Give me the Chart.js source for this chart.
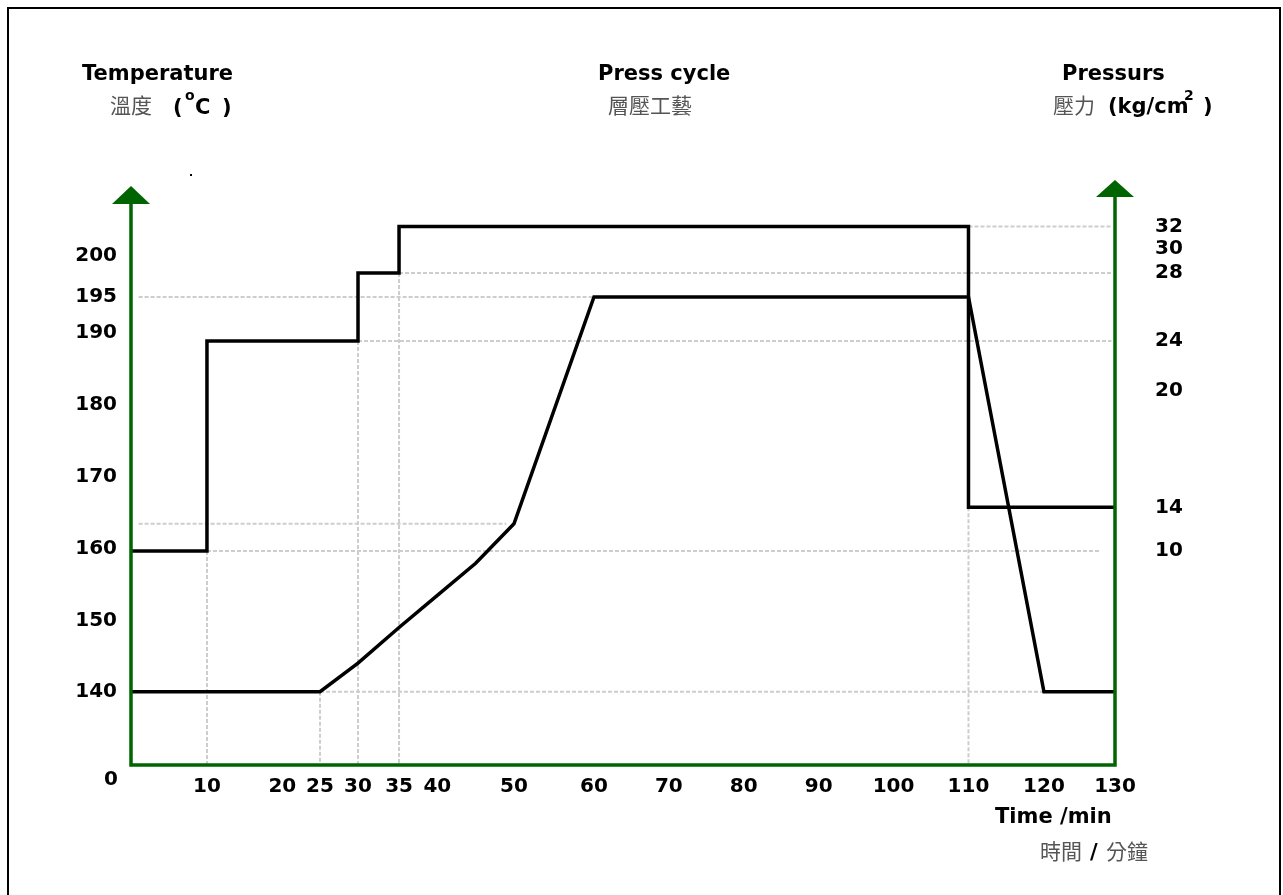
<!DOCTYPE html>
<html>
<head>
<meta charset="utf-8">
<title>Press cycle</title>
<script src="https://cdn.jsdelivr.net/npm/chart.js@4/dist/chart.umd.min.js"></script>
<style>
  html, body { margin: 0; padding: 0; background: #fff; overflow: hidden; }
  #frame { position: absolute; left: 7px; top: 7px; width: 1270px; height: 900px; border: 2px solid #000; }
  #pressChart { position: absolute; left: 0; top: 0; }
</style>
</head>
<body>
<div id="frame"></div>
<canvas id="pressChart" width="1283" height="895"></canvas>
<script>
// ticks
const timeTicks = [10, 20, 25, 30, 35, 40, 50, 60, 70, 80, 90, 100, 110, 120, 130];
const tempTicks = [0, 140, 150, 160, 170, 180, 190, 195, 200];
const pressTicks = [10, 14, 20, 24, 28, 30, 32];

// temperature curve (min, °C)
const tempTime = [0, 25, 30, 35, 40, 45, 50, 60, 110, 120, 130];
const tempValue = [140, 140, 144, 149, 153.5, 158, 163.5, 195, 195, 140, 140];

// pressure steps (min, kg/cm2)
const pressTime = [0, 10, 10, 30, 30, 35, 35, 110, 110, 130];
const pressValue = [10, 10, 24, 24, 28, 28, 32, 32, 14, 14];

// dotted helper lines: horizontal ones (level, from, to)
const tempGuideLevel = [195, 163.5, 140];
const tempGuideFrom = [1, 1, 25];
const tempGuideTo = [60, 49, 120];
const pressGuideLevel = [32, 28, 24, 10];
const pressGuideFrom = [110, 35, 30, 10];
const pressGuideTo = [129.5, 129.5, 129.5, 128];
// ... and the vertical drops down to the time axis
const tempDropTime = [25];
const tempDropLevel = [140];
const pressDropTime = [10, 30, 35, 110];
const pressDropLevel = [10, 24, 28, 14];

const AXIS = '#006400';
const GUIDE = '#cdcdcd';
const LABEL = 'bold 21px "DejaVu Sans"';
const CJK = '21px "Noto Sans CJK TC"';

// the drawing is hand made, so its axes are not evenly spaced:
// value -> fraction of the axis length
const STOPS = {
  x: [[0, 0], [10, 0.0772], [25, 0.1921], [30, 0.2307], [35, 0.2724], [50, 0.3892],
      [60, 0.4705], [110, 0.8511], [120, 0.9278], [130, 1]],
  y: [[0, 0], [140, 0.1297], [160, 0.3823], [195, 0.8283], [200, 0.9009], [210, 1]],
  y2: [[0, 0], [10, 0.3788], [14, 0.4561], [20, 0.6619], [24, 0.7504], [28, 0.8708],
       [30, 0.9133], [32, 0.9531], [34, 1]]
};

class StopScale extends Chart.LinearScale {
  static id = 'stops';
  lerp(v, from, to) {
    const s = STOPS[this.id];
    let i = 1;
    while (i < s.length - 1 && v > s[i][from]) i++;
    const a = s[i - 1], b = s[i];
    return a[to] + (v - a[from]) * (b[to] - a[to]) / (b[from] - a[from]);
  }
  getPixelForValue(value) {
    if (value === null || value === undefined || isNaN(value)) return NaN;
    return this.getPixelForDecimal(this.lerp(value, 0, 1));
  }
  getValueForPixel(pixel) {
    return this.lerp(this.getDecimalForPixel(pixel), 1, 0);
  }
}
Chart.register(StopScale);

const points = (xs, ys) => xs.map((x, i) => ({ x: x, y: ys[i] }));

const line = (data, axis) => ({
  data: data, yAxisID: axis, borderColor: '#000', borderWidth: 3.5,
  pointRadius: 0, tension: 0, fill: false, borderJoinStyle: 'miter', order: 1
});
const guide = (data, axis) => ({
  data: data, yAxisID: axis, borderColor: GUIDE, borderWidth: 2, borderDash: [4, 2],
  pointRadius: 0, tension: 0, fill: false, order: 2
});

const datasets = [
  line(points(tempTime, tempValue), 'y'),
  line(points(pressTime, pressValue), 'y2'),
  ...tempGuideLevel.map((lv, i) => guide([{ x: tempGuideFrom[i], y: lv }, { x: tempGuideTo[i], y: lv }], 'y')),
  ...pressGuideLevel.map((lv, i) => guide([{ x: pressGuideFrom[i], y: lv }, { x: pressGuideTo[i], y: lv }], 'y2')),
  ...tempDropTime.map((t, i) => guide([{ x: t, y: tempDropLevel[i] }, { x: t, y: 0 }], 'y')),
  ...pressDropTime.map((t, i) => guide([{ x: t, y: pressDropLevel[i] }, { x: t, y: 0 }], 'y2'))
];

function text(ctx, str, x, y, font, color, baseline) {
  ctx.font = font;
  ctx.fillStyle = color;
  ctx.textAlign = 'left';
  ctx.textBaseline = baseline || 'alphabetic';
  ctx.fillText(str, x, y);
}

function arrow(ctx, x, tip, h, half) {
  ctx.beginPath();
  ctx.moveTo(x, tip);
  ctx.lineTo(x + half, tip + h);
  ctx.lineTo(x - half, tip + h);
  ctx.closePath();
  ctx.fill();
}

const decorations = {
  id: 'decorations',
  afterDatasetsDraw(chart) {
    const { ctx, chartArea: a } = chart;
    ctx.save();

    // green axes with arrow heads
    ctx.strokeStyle = AXIS;
    ctx.fillStyle = AXIS;
    ctx.lineWidth = 3.5;
    ctx.lineJoin = 'miter';
    ctx.beginPath();
    ctx.moveTo(a.left, a.top + 2);
    ctx.lineTo(a.left, a.bottom);
    ctx.lineTo(a.right, a.bottom);
    ctx.lineTo(a.right, a.top - 5);
    ctx.stroke();
    arrow(ctx, a.left, a.top - 14, 18, 19);
    arrow(ctx, a.right, a.top - 20, 17, 19);

    // origin label sits below the corner
    ctx.font = LABEL.replace('21px', '20px');
    ctx.fillStyle = '#000';
    ctx.textAlign = 'right';
    ctx.textBaseline = 'middle';
    ctx.fillText('0', a.left - 13, chart.scales.y.getPixelForValue(0) + 15);

    // headings
    text(ctx, 'Temperature', 82, 80, LABEL, '#000');
    text(ctx, '溫度', 110, 105, CJK, '#555', 'middle');
    text(ctx, '(', 173, 114, LABEL, '#000');
    text(ctx, 'o', 185, 100, 'bold 14px "DejaVu Sans"', '#000');
    text(ctx, 'C', 195, 114, LABEL, '#000');
    text(ctx, ')', 222, 114, LABEL, '#000');

    text(ctx, 'Press cycle', 598, 80, LABEL, '#000');
    text(ctx, '層壓工藝', 608, 105, CJK, '#555', 'middle');

    text(ctx, 'Pressurs', 1062, 80, LABEL, '#000');
    text(ctx, '壓力', 1053, 105, CJK, '#555', 'middle');
    text(ctx, '(kg/cm', 1108, 113, LABEL, '#000');
    text(ctx, '2', 1184, 100, 'bold 14px "DejaVu Sans"', '#000');
    text(ctx, ')', 1203, 113, LABEL, '#000');

    text(ctx, 'Time /min', 995, 823, LABEL, '#000');
    text(ctx, '時間', 1040, 851, CJK, '#555', 'middle');
    text(ctx, '/', 1090, 859, LABEL, '#000');
    text(ctx, '分鐘', 1106, 851, CJK, '#555', 'middle');

    ctx.fillStyle = '#000';
    ctx.fillRect(190, 174, 2, 2);
    ctx.restore();
  }
};

const tickFont = { family: 'DejaVu Sans', weight: 'bold', size: 20 };

new Chart(document.getElementById('pressChart'), {
  type: 'line',
  data: { datasets: datasets },
  plugins: [decorations],
  options: {
    responsive: false,
    animation: false,
    layout: { padding: { top: 200, left: 0, right: 0, bottom: 0 } },
    plugins: { legend: { display: false }, tooltip: { enabled: false } },
    scales: {
      x: {
        type: 'stops', min: 0, max: 130,
        grid: { display: false, drawTicks: false }, border: { display: false },
        afterBuildTicks: s => { s.ticks = timeTicks.map(v => ({ value: v })); },
        afterFit: s => { s.height = 130; },
        ticks: { autoSkip: false, maxRotation: 0, minRotation: 0, padding: 10,
                 color: '#000', font: tickFont, callback: v => String(v) }
      },
      y: {
        type: 'stops', position: 'left', min: 0, max: 210,
        grid: { display: false, drawTicks: false }, border: { display: false },
        afterBuildTicks: s => { s.ticks = tempTicks.map(v => ({ value: v })); },
        afterFit: s => { s.width = 131; },
        ticks: { autoSkip: false, padding: 14, color: '#000', font: tickFont,
                 callback: v => (v === 0 ? '' : String(v)) }
      },
      y2: {
        type: 'stops', position: 'right', min: 0, max: 34,
        grid: { display: false, drawTicks: false }, border: { display: false },
        afterBuildTicks: s => { s.ticks = pressTicks.map(v => ({ value: v })); },
        afterFit: s => { s.width = 168; },
        ticks: { autoSkip: false, padding: 40, color: '#000', font: tickFont,
                 callback: v => String(v) }
      }
    }
  }
});
</script>
</body>
</html>
